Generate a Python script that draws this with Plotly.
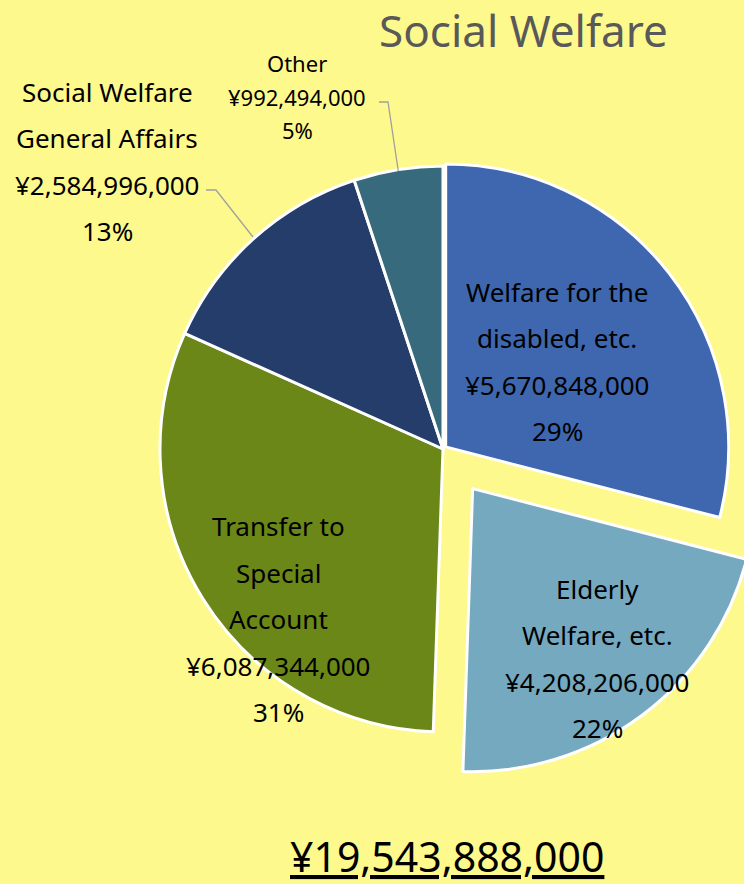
import plotly.graph_objects as go
import math

# ---------------- data ----------------
categories = ["Welfare for the disabled, etc.", "Elderly Welfare, etc.",
              "Transfer to Special Account", "Social Welfare General Affairs", "Other"]
label_lines = [["Welfare for the", "disabled, etc."],
               ["Elderly", "Welfare, etc."],
               ["Transfer to", "Special", "Account"],
               ["Social Welfare", "General Affairs"],
               ["Other"]]
values = [5670848000, 4208206000, 6087344000, 2584996000, 992494000]
colors = ["#3E67AF", "#74A9C0", "#6B8717", "#253D6A", "#386A7E"]
pulls = [0.012, 0.175, 0, 0, 0]
title_text = "Social Welfare"

total = sum(values)

# ---------------- layout geometry ----------------
W, H = 780, 884          # figure wider than the 744 viewport: pulled slice is cut off like the original
CX, CY, R = 443, 449, 283
maxpull = max(pulls)
half = R * (1 + maxpull)
dom_x = [(CX - half) / W, (CX + half) / W]
dom_y = [1 - (CY + half) / H, 1 - (CY - half) / H]

def px(x):
    return x / W

def py(y):
    return 1 - y / H

BG = "#FDF98C"
FONT = "Noto Sans"

fig = go.Figure()
fig.add_trace(go.Pie(
    labels=categories, values=values, sort=False, direction="clockwise", rotation=0,
    pull=pulls, textinfo="none", hoverinfo="label+value+percent",
    marker=dict(colors=colors, line=dict(color="white", width=3)),
    domain=dict(x=dom_x, y=dom_y), showlegend=False,
))

annotations = []

def add_label(lines, cx, cy0, spacing, size):
    for i, t in enumerate(lines):
        annotations.append(dict(
            x=px(cx), y=py(cy0 + i * spacing), xref="paper", yref="paper",
            text=t, showarrow=False, xanchor="center", yanchor="middle",
            font=dict(family=FONT, size=size, color="#000000")))

def lines_for(i):
    pct = round(values[i] / total * 100)
    return label_lines[i] + [f"¥{values[i]:,}", f"{pct}%"]

# label placements (pixel centres of first line)
add_label(lines_for(0), 557, 292, 46.3, 26)
add_label(lines_for(1), 597, 589, 46.3, 26)
add_label(lines_for(2), 278, 526, 46.5, 26)
add_label(lines_for(3), 107, 92, 46.3, 26)
add_label(lines_for(4), 297, 63, 33.5, 22)

# leader lines for outside labels, ending on the slice edge at its mid-angle
def edge_point(i, frac=1.0):
    start = sum(values[:i]) / total * 360
    mid = math.radians(start + values[i] / total * 180)
    return CX + R * frac * math.sin(mid), CY - R * frac * math.cos(mid)

shapes = []
def leader(points):
    path = "M " + " L ".join(f"{px(x)},{py(y)}" for x, y in points)
    shapes.append(dict(type="path", path=path, xref="paper", yref="paper",
                       line=dict(color="#A0A0A0", width=1.3)))

ex, ey = edge_point(4, 0.995)
leader([(379, 102), (388, 102), (ex, ey)])
leader([(206, 190), (216, 190), (253, 237)])

# title and total
annotations.append(dict(x=px(523), y=py(30), xref="paper", yref="paper", text=title_text,
                        showarrow=False, xanchor="center", yanchor="middle",
                        font=dict(family=FONT, size=44, color="#595959")))
annotations.append(dict(x=px(447), y=py(856), xref="paper", yref="paper",
                        text=f"<u>¥{total:,}</u>", showarrow=False,
                        xanchor="center", yanchor="middle",
                        font=dict(family=FONT, size=41, color="#000000")))

fig.update_layout(
    width=W, height=H, margin=dict(l=0, r=0, t=0, b=0),
    paper_bgcolor=BG, plot_bgcolor=BG,
    annotations=annotations, shapes=shapes,
)

fig.write_html("out.html", post_script=(
    "document.documentElement.style.overflow='hidden';"
    "document.body.style.overflow='hidden';document.body.style.margin='0';"))
